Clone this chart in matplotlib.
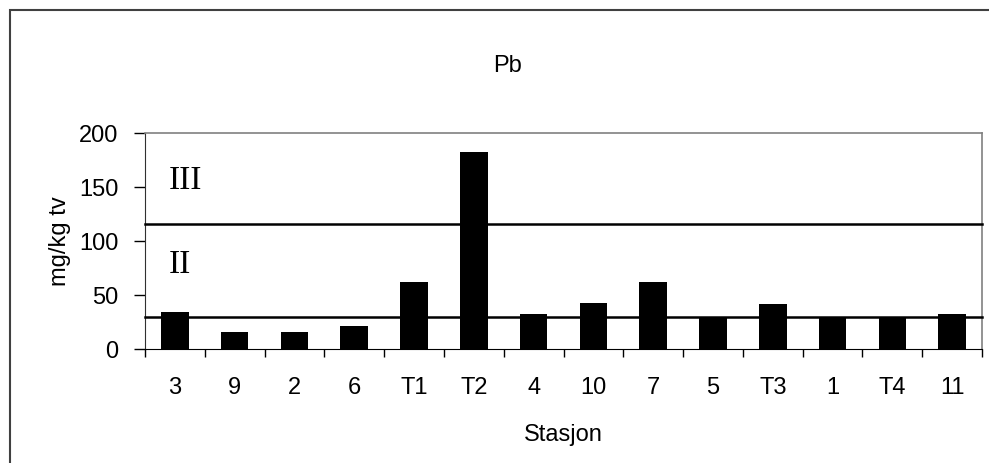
import matplotlib.pyplot as plt
from matplotlib.patches import Rectangle

stations = ["3", "9", "2", "6", "T1", "T2", "4", "10", "7", "5", "T3", "1", "T4", "11"]
pb_values = [34, 16, 16, 21, 62, 182, 32, 43, 62, 30, 42, 30, 30, 32]
class_limits = [30, 116]
class_labels = ["II", "III"]
class_label_y = [78, 156]

plt.rcParams['font.family'] = ['Liberation Sans', 'DejaVu Sans']

fig = plt.figure(figsize=(9.89, 4.63), dpi=100)
W, H = 989, 463
ax = fig.add_axes([145 / W, 1 - 349 / H, (982 - 145) / W, (349 - 133) / H])

x = list(range(len(stations)))
ax.bar(x, pb_values, width=0.46, color="black", zorder=2)

for lim in class_limits:
    ax.axhline(lim, color="black", lw=1.8, zorder=3, clip_on=False)

for lab, ly in zip(class_labels, class_label_y):
    ax.text(-0.1, ly, lab, fontsize=24, family="Liberation Serif", va="center", ha="left")

ax.set_xlim(-0.5, len(stations) - 0.5)
ax.set_ylim(0, 200)
ax.set_yticks([0, 50, 100, 150, 200])
ax.set_xticks([i - 0.5 for i in range(len(stations) + 1)])
ax.set_xticklabels([])
ax.set_xticks(x, minor=True)
ax.set_xticklabels(stations, minor=True)
ax.tick_params(axis="x", which="major", direction="out", length=6, width=1)
ax.tick_params(axis="x", which="minor", length=0, pad=20, labelsize=17)
ax.tick_params(axis="y", direction="out", length=8, width=1, labelsize=17, pad=11)

for side in ["top", "right"]:
    ax.spines[side].set_color("#808080")
    ax.spines[side].set_linewidth(1.2)
ax.spines["left"].set_color("#303030")
ax.spines["bottom"].set_color("black")

ax.set_ylabel("mg/kg tv", fontsize=17, labelpad=6)
ax.set_xlabel("Stasjon", fontsize=17, labelpad=18)
fig.text(508 / W, 1 - 66 / H, "Pb", fontsize=17, ha="center", va="center")

fig.patches.append(Rectangle((10 / W, -0.1), 1.2, 1 - 10 / H + 0.1, transform=fig.transFigure,
                             fill=False, edgecolor="#404040", lw=1.5))

fig.savefig("out.png", dpi=100)
